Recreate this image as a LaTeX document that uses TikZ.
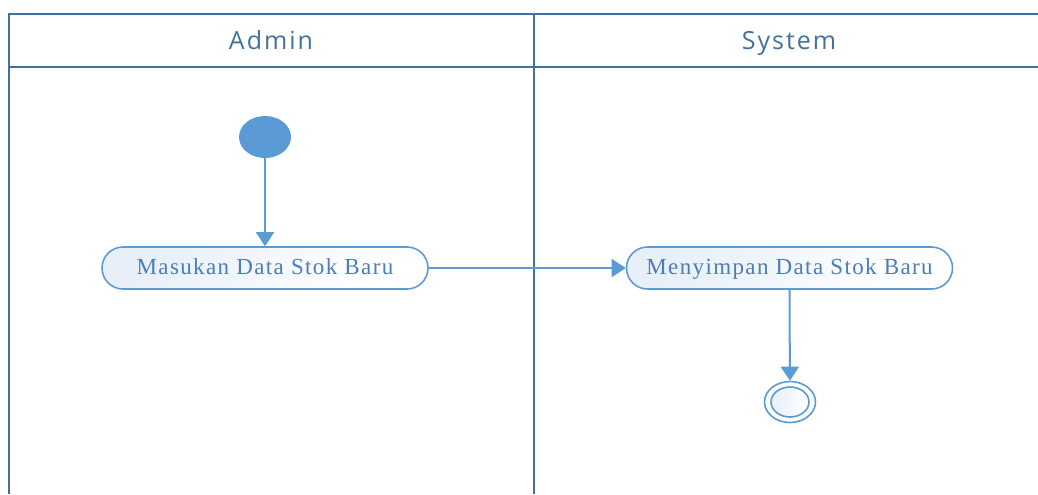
\documentclass[tikz,border=0pt]{standalone}
\usepackage{fontspec}
\setmainfont{Liberation Serif}[LetterSpace=6]
\newfontfamily\lanefont{Open Sans}[LetterSpace=8]
\usetikzlibrary{arrows.meta,shapes.geometric}
\definecolor{laneblue}{HTML}{41719C}
\definecolor{flowblue}{HTML}{5B9BD5}
\definecolor{textblue}{HTML}{4A7EBB}
\definecolor{paleblue}{HTML}{E8EFF9}
\begin{document}
\begin{tikzpicture}[x=0.5pt, y=-0.5pt,
    lane/.style={draw=laneblue, line width=1pt},
    lanetitle/.style={font=\lanefont\fontsize{12.5}{14}\selectfont, text=laneblue,
      text height=1.6ex, text depth=0.3ex},
    action/.style={draw=flowblue, line width=0.8pt, rounded corners=10.5pt,
      minimum width=163pt, minimum height=21pt, inner sep=0pt,
      left color=paleblue, right color=white, shading angle=60,
      text=textblue, font=\fontsize{11.5}{13}\selectfont,
      text height=1.9ex, text depth=0.4ex},
    flow/.style={draw=flowblue, line width=1pt, -{Triangle[width=9pt,length=7pt]}}]
    \useasboundingbox (0,0) rectangle (1038,494);

    % swimlanes
    \draw[lane] (1038,14) -- (9,14) -- (9,494);
    \draw[lane] (9,67) -- (1038,67);
    \draw[lane] (534,14) -- (534,494);
    \node[lanetitle] (admin) at (271,44) {Admin};
    \node[lanetitle] (system) at (789,44) {System};

    % activities
    \node[ellipse, fill=flowblue, minimum width=26pt, minimum height=21pt, inner sep=0pt] (start) at (265,137) {};
    \node[action] (masukan) at (265,268) {Masukan Data Stok Baru};
    \node[action] (simpan) at (789.5,268) {Menyimpan Data Stok Baru};
    \node[ellipse, draw=flowblue, line width=0.8pt, minimum width=25.5pt, minimum height=20.5pt, inner sep=0pt] (finish) at (790,402) {};
    \node[ellipse, draw=flowblue, line width=0.8pt, left color=paleblue, right color=white,
      minimum width=19pt, minimum height=15pt, inner sep=0pt] (finishin) at (790,402) {};

    \draw[flow] (start) -- (masukan);
    \draw[flow] (masukan) -- (simpan);
    \draw[flow] (simpan.south) -- (finish);
\end{tikzpicture}
\end{document}
